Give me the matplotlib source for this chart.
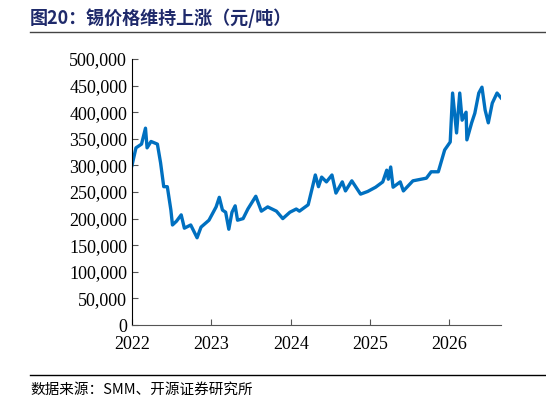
import matplotlib
matplotlib.use("Agg")
import matplotlib.pyplot as plt
from matplotlib.ticker import FuncFormatter, MultipleLocator

plt.rcParams['font.serif'] = ['Liberation Serif', 'Times New Roman', 'DejaVu Serif']
plt.rcParams['font.family'] = ['serif']

LINE_COLOR = "#0070C0"
TITLE_COLOR = "#1F2A6B"

# decimal year / price (yuan per tonne)
dates = [2022.00, 2022.05, 2022.12, 2022.17, 2022.19, 2022.24, 2022.32, 2022.36,
         2022.40, 2022.445, 2022.49, 2022.51, 2022.56, 2022.62, 2022.66, 2022.74,
         2022.82, 2022.87, 2022.97, 2023.06, 2023.10, 2023.14, 2023.18, 2023.22,
         2023.26, 2023.30, 2023.33, 2023.40, 2023.46, 2023.56, 2023.63, 2023.71,
         2023.82, 2023.90, 2023.99, 2024.07, 2024.11, 2024.22, 2024.28, 2024.31,
         2024.35, 2024.39, 2024.45, 2024.52, 2024.57, 2024.65, 2024.69, 2024.77,
         2024.88, 2024.97, 2025.07, 2025.16, 2025.21, 2025.23, 2025.26, 2025.29,
         2025.38, 2025.42, 2025.54, 2025.71, 2025.77, 2025.86, 2025.94, 2026.01,
         2026.04, 2026.09, 2026.13, 2026.16, 2026.21, 2026.22, 2026.28, 2026.32,
         2026.37, 2026.41, 2026.45, 2026.49, 2026.54, 2026.60, 2026.65]
prices = [300000, 333000, 340000, 370000, 333000, 345000, 340000, 305000,
          260000, 260000, 216000, 188000, 195000, 207000, 182000, 188000,
          164000, 184000, 197000, 222000, 240000, 216000, 212000, 180000,
          212000, 224000, 197000, 200000, 218000, 242000, 214000, 222000,
          214000, 200000, 212000, 218000, 214000, 226000, 263000, 282000,
          260000, 278000, 269000, 282000, 248000, 269000, 252000, 271000,
          246000, 251000, 259000, 269000, 291000, 274000, 297000, 259000,
          269000, 252000, 271000, 276000, 288000, 288000, 329000, 344000,
          436000, 361000, 436000, 385000, 400000, 348000, 380000, 398000,
          436000, 447000, 404000, 380000, 417000, 436000, 427000]
year_ticks = [2022, 2023, 2024, 2025, 2026]

fig = plt.figure(figsize=(5.46, 4.05), dpi=100)
ax = fig.add_axes([132 / 546, 1 - 325 / 405, (501 - 132) / 546, (325 - 59) / 405])
ax.plot(dates, prices, color=LINE_COLOR, linewidth=2.4)

ax.set_xlim(2022, 2026.65)
ax.set_ylim(0, 500000)
ax.set_xticks(year_ticks)
ax.set_xticklabels([str(y) for y in year_ticks])
ax.yaxis.set_major_locator(MultipleLocator(50000))
ax.yaxis.set_major_formatter(FuncFormatter(lambda v, p: f"{int(v):,}"))
ax.tick_params(direction="in", labelsize=13, length=4, color="#555555")
ax.tick_params(axis="x", pad=8)
for side in ["top", "right"]:
    ax.spines[side].set_visible(False)
ax.spines["left"].set_color("black")
ax.spines["bottom"].set_color("#555555")

fig.text(30 / 546, 1 - 18 / 405, "图20：锡价格维持上涨（元/吨）", fontsize=13,
         fontweight="bold", color=TITLE_COLOR, va="center",
         family=['Noto Sans CJK SC'])
fig.add_artist(plt.Line2D([30 / 546, 1], [1 - 32 / 405] * 2, color="#444444", linewidth=1))
fig.add_artist(plt.Line2D([30 / 546, 1], [1 - 375 / 405] * 2, color="black", linewidth=1))
fig.text(30 / 546, 1 - 390 / 405, "数据来源：SMM、开源证券研究所", fontsize=10.5,
         va="center", family=['Noto Sans CJK SC'])

fig.savefig("out.png", dpi=100)
